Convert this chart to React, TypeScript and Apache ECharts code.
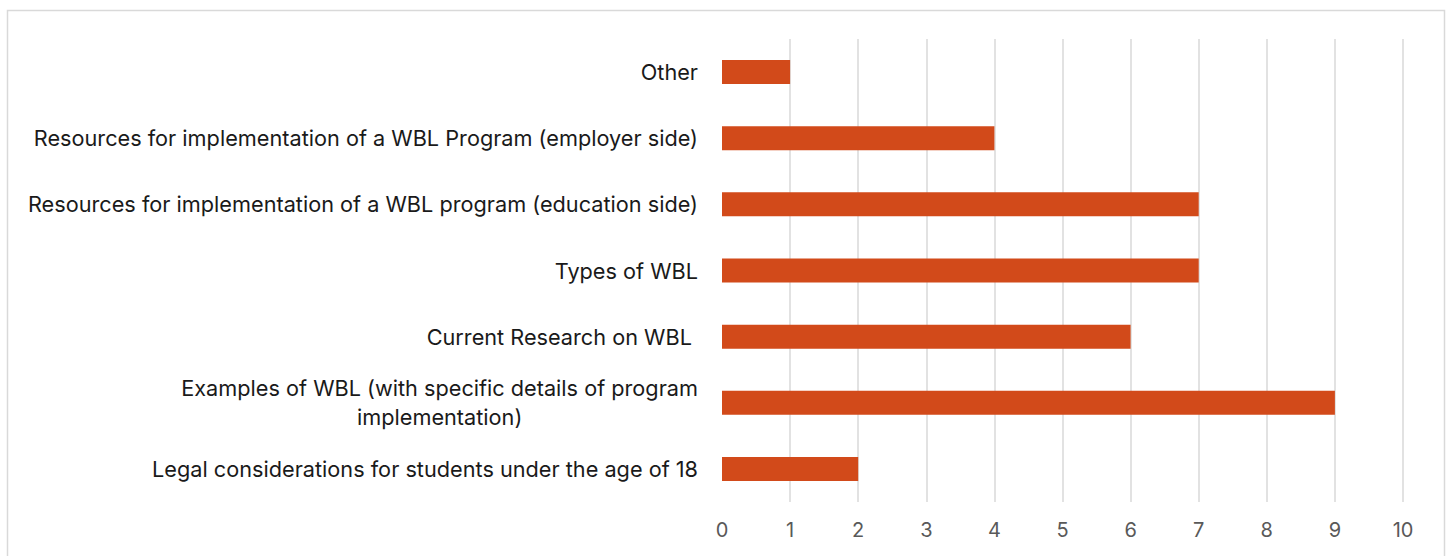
import React, { useEffect, useRef } from "react";
import * as echarts from "echarts";

const categories = [
  "Other",
  "Resources for implementation of a WBL Program (employer side)",
  "Resources for implementation of a WBL program (education side)",
  "Types of WBL",
  "Current Research on WBL ",
  "Examples of WBL (with specific details of program\nimplementation)",
  "Legal considerations for students under the age of 18",
];
const values = [1, 4, 7, 7, 6, 9, 2];
const xTicks = [0, 10, 1];

export default function App() {
  const ref = useRef<HTMLDivElement>(null);
  useEffect(() => {
    document.body.style.margin = "0";
    const chart = echarts.init(ref.current!, undefined, { renderer: "svg" });
    chart.setOption({
      animation: false,
      backgroundColor: "#ffffff",
      graphic: [
        {
          type: "rect",
          shape: { x: 7.5, y: 10.5, width: 1437, height: 560 },
          style: { fill: "none", stroke: "#d9d9d9", lineWidth: 1.5 },
          silent: true,
        },
      ],
      grid: { left: 722, right: 47, top: 39, bottom: 54, containLabel: false },
      xAxis: {
        type: "value",
        min: xTicks[0],
        max: xTicks[1],
        interval: xTicks[2],
        axisLine: { show: false },
        axisTick: { show: false },
        axisLabel: {
          color: "#595959",
          fontSize: 20,
          fontFamily: "Inter, 'Noto Sans', sans-serif",
          margin: 18,
        },
        splitLine: {
          show: true,
          lineStyle: {
            color: [
              "rgba(0,0,0,0)",
              "#d9d9d9", "#d9d9d9", "#d9d9d9", "#d9d9d9", "#d9d9d9",
              "#d9d9d9", "#d9d9d9", "#d9d9d9", "#d9d9d9", "#d9d9d9",
            ],
            width: 1.5,
          },
        },
      },
      yAxis: {
        type: "category",
        data: categories,
        inverse: true,
        axisLine: { show: false },
        axisTick: { show: false },
        axisLabel: {
          margin: 24,
          formatter: (v: string) => `{c|${v}}`,
          rich: {
            c: {
              align: "center",
              color: "#1a1a1a",
              fontSize: 21.7,
              lineHeight: 29,
              fontFamily: "Inter, 'Noto Sans', sans-serif",
            },
          },
        },
      },
      series: [
        {
          type: "bar",
          data: values,
          barWidth: 24,
          itemStyle: { color: "#D24A1A" },
        },
      ],
    });
    return () => chart.dispose();
  }, []);
  return (
    <div
      ref={ref}
      style={{ position: "absolute", left: 0, top: 0, width: 1450, height: 556 }}
    />
  );
}
